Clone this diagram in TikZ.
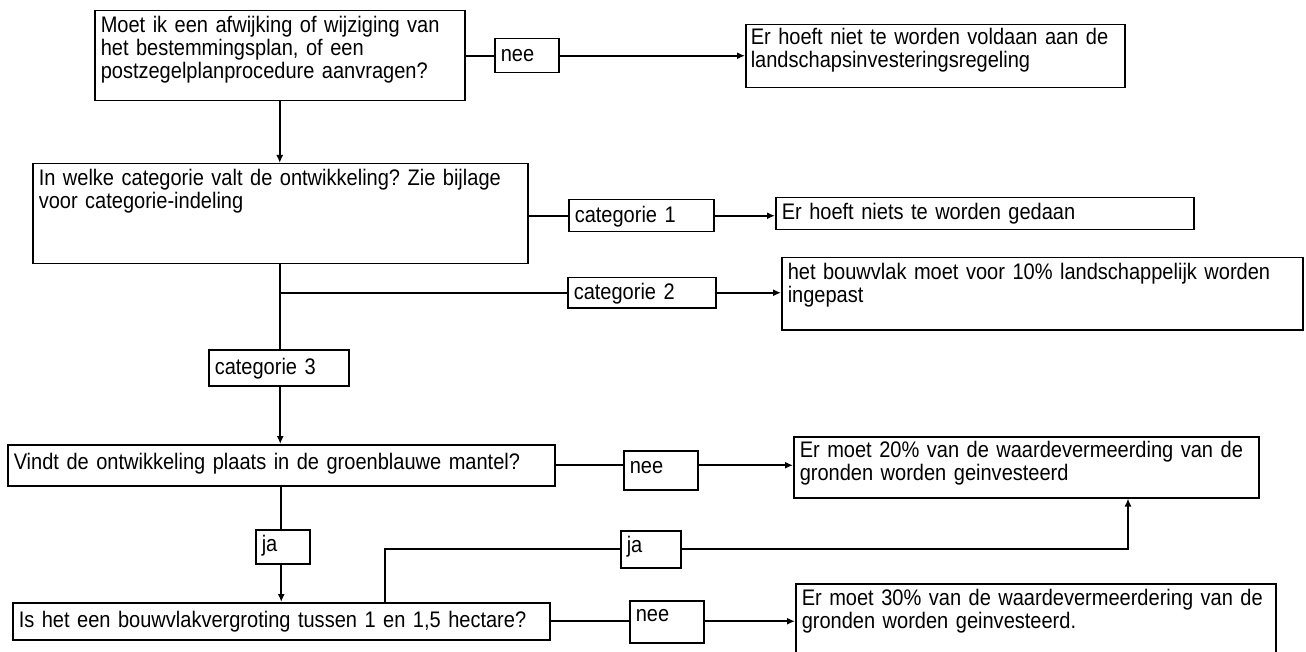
\documentclass[tikz,border=0pt]{standalone}
\usepackage{fontspec}
\setmainfont{Liberation Sans}[FakeStretch=0.89]
\usetikzlibrary{arrows.meta,calc}
\newcommand{\lyn}[1]{\mbox{#1}}
\tikzset{
  bx/.style={draw, line width=1.5pt, anchor=north west, inner xsep=6pt, inner ysep=0pt,
             align=left, font=\fontsize{22.5pt}{23pt}\selectfont\frenchspacing},
  ln/.style={line width=1.8pt},
  ar/.style={line width=1.8pt, -{Latex[length=8pt,width=7pt]}}
}
\begin{document}
\begin{tikzpicture}[x=1pt,y=-1pt]
\useasboundingbox (0,0) rectangle (1306,652);
\fill[white] (0,0) rectangle (1306,652);
\clip (0,0) rectangle (1306,652);
% question boxes
\node[bx, text width=358pt, text height=22pt, text depth=68pt] (A) at (94,10)
  {\lyn{Moet ik een afwijking of wijziging van}\\\lyn{het bestemmingsplan, of een}\\\lyn{postzegelplanprocedure aanvragen?}};
\node[bx, text width=483pt, text height=22pt, text depth=78pt] (B) at (32,163)
  {\lyn{In welke categorie valt de ontwikkeling? Zie bijlage}\\\lyn{voor categorie-indeling}};
\node[bx, text width=535pt, text height=25pt, text depth=16pt] (C) at (7,444)
  {\lyn{Vindt de ontwikkeling plaats in de groenblauwe mantel?}};
\node[bx, text width=525pt, text height=25pt, text depth=12pt] (D) at (12,602)
  {\lyn{Is het een bouwvlakvergroting tussen 1 en 1,5 hectare?}};
% label boxes
\node[bx, text width=52pt, text height=23pt, text depth=11pt] (nee1) at (494,38) {nee};
\node[bx, text width=133pt, text height=23pt, text depth=9pt] (cat1) at (568,199) {categorie 1};
\node[bx, text width=136pt, text height=22pt, text depth=8pt] (cat2) at (567,277) {categorie 2};
\node[bx, text width=128pt, text height=25pt, text depth=11pt] (cat3) at (208,349) {categorie 3};
\node[bx, text width=62pt, text height=23pt, text depth=16pt] (nee2) at (623,450) {nee};
\node[bx, text width=42pt, text height=22pt, text depth=12pt] (ja1) at (255,529) {ja};
\node[bx, text width=48pt, text height=22pt, text depth=15pt] (ja2) at (620,530) {ja};
\node[bx, text width=62pt, text height=21pt, text depth=21pt] (nee3) at (629,600) {nee};
% result boxes
\node[bx, inner xsep=5pt, text width=369pt, text height=20pt, text depth=43pt] (R1) at (745,24)
  {\lyn{Er hoeft niet te worden voldaan aan de}\\\lyn{landschapsinvesteringsregeling}};
\node[bx, text width=406pt, text height=22pt, text depth=10pt] (Rc1) at (775,197)
  {\lyn{Er hoeft niets te worden gedaan}};
\node[bx, text width=509pt, text height=22pt, text depth=50pt] (Rc2) at (781,257)
  {\lyn{het bouwvlak moet voor 10\% landschappelijk worden}\\\lyn{ingepast}};
\node[bx, text width=453pt, text height=21pt, text depth=40pt] (R2) at (793,436)
  {\lyn{Er moet 20\% van de waardevermeerding van de}\\\lyn{gronden worden geinvesteerd}};
\node[bx, text width=468pt, text height=22pt, text depth=58pt] (R3) at (795,583)
  {\lyn{Er moet 30\% van de waardevermeerdering van de}\\\lyn{gronden worden geinvesteerd.}};
% helper coordinates
\coordinate (br2) at (B.south |- cat2.west);
\coordinate (dj) at ($(D.north west)+(373,0)$);
\coordinate (r2in) at ($(R2.south west)+(335,0)$);
% connectors
\draw[ln] (A.east) -- (nee1.west);
\draw[ar] (nee1.east) -- (R1.west |- nee1.east);
\draw[ar] (A.south) -- (A.south |- B.north);
\draw[ln] (B.east |- cat1.west) -- (cat1.west);
\draw[ar] (cat1.east) -- (Rc1.west |- cat1.east);
\draw[ln] (B.south) -- (B.south |- cat3.north);
\draw[ln] (br2) -- (cat2.west);
\draw[ar] (cat2.east) -- (Rc2.west |- cat2.east);
\draw[ar] (cat3.south -| B.south) -- (B.south |- C.north);
\draw[ln] (C.east) -- (C.east -| nee2.west);
\draw[ar] (nee2.east |- C.east) -- (R2.west |- C.east);
\draw[ln] (C.south) -- (C.south |- ja1.north);
\draw[ar] (C.south |- ja1.south) -- (C.south |- D.north);
\draw[ln] (dj) |- (ja2.west);
\draw[ar] (ja2.east) -| (r2in);
\draw[ln] (D.east) -- (D.east -| nee3.west);
\draw[ar] (nee3.east |- D.east) -- (R3.west |- D.east);
\end{tikzpicture}
\end{document}
